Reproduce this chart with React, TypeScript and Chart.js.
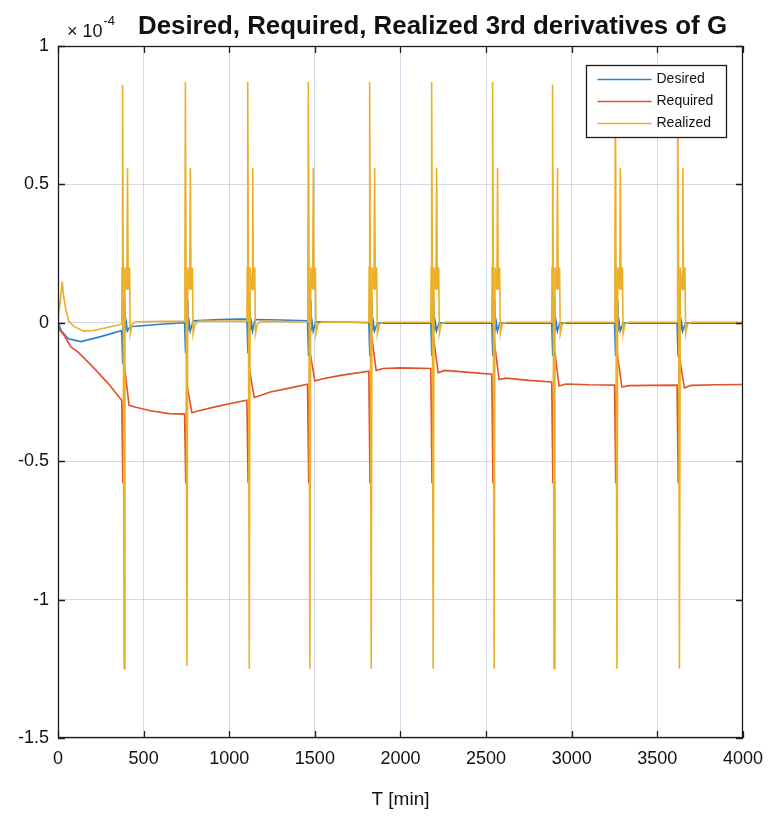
import React, { useEffect, useRef } from "react";
import { Chart, registerables } from "chart.js";

Chart.register(...registerables);

// ---------- data (values in units of 1e-4) ----------
const seriesNames = ["Desired", "Required", "Realized"];
const seriesColors = ["#2a7fd0", "#e2502a", "#ebb028"];

const xTicks = [0, 500, 1000, 1500, 2000, 2500, 3000, 3500, 4000];
const yTickValues = [-1.5, -1, -0.5, 0, 0.5, 1];
const yTickLabels = ["-1.5", "-1", "-0.5", "0", "0.5", "1"];

// times [min] of the periodic spikes
const eventTimes = [375, 742, 1106, 1460, 1818, 2180, 2536, 2886, 3253, 3618];

// Realized spike values
const realizedPeak1 = [0.86, 0.87, 0.87, 0.87, 0.87, 0.87, 0.87, 0.86, 0.86, 0.86];
const realizedTrough = [-1.25, -1.24, -1.25, -1.25, -1.25, -1.25, -1.25, -1.25, -1.25, -1.25];
const realizedPeak2 = [0.56, 0.56, 0.56, 0.56, 0.56, 0.56, 0.56, 0.56, 0.56, 0.56];
const realizedShoulder = [0.2, 0.15, 0.2, 0.12, 0.2, -0.04, -0.005];

// Desired spike values
const desiredLow = [-0.15, -0.11, -0.11, -0.12, -0.12, -0.12, -0.12, -0.12, -0.12, -0.12];
const desiredHigh = [0.1, 0.1, 0.1, 0.1, 0.1, 0.1, 0.1, 0.1, 0.1, 0.1];
const desiredRipple = [0.08, -0.03, 0.0, -0.03];

// Required spike values
const requiredLow = [-0.58, -0.58, -0.58, -0.58, -0.58, -0.58, -0.58, -0.58, -0.58, -0.58];
const requiredHigh = [-0.14, -0.22, -0.16, -0.1, -0.03, -0.04, -0.06, -0.08, -0.1, -0.12];
const requiredDip = [-0.298, -0.325, -0.27, -0.21, -0.172, -0.18, -0.205, -0.228, -0.232, -0.235];

// slow baselines between spikes: [t, value]
const desiredBase = [
  [0, 0], [20, -0.03], [60, -0.058], [134, -0.068], [250, -0.05], [372, -0.028],
  [420, -0.014], [600, -0.005], [739, 0],
  [790, 0.007], [950, 0.012], [1103, 0.014],
  [1150, 0.012], [1300, 0.01], [1457, 0.007],
  [1505, 0.004], [1700, 0.002], [1815, 0],
  [1865, -0.001], [2177, -0.001], [2225, -0.001], [2533, -0.001],
  [2580, -0.001], [2883, -0.001], [2930, -0.001], [3250, -0.001],
  [3300, -0.001], [3615, -0.001], [3665, -0.001], [4000, -0.001],
];
const requiredBase = [
  [0, -0.01], [12, -0.027], [35, -0.045], [75, -0.087], [116, -0.105], [192, -0.152],
  [290, -0.217], [372, -0.28],
  [455, -0.305], [540, -0.318], [650, -0.328], [739, -0.33],
  [822, -0.318], [930, -0.302], [1020, -0.29], [1103, -0.28],
  [1186, -0.262], [1240, -0.25], [1350, -0.236], [1457, -0.222],
  [1540, -0.203], [1650, -0.19], [1815, -0.175],
  [1898, -0.165], [2000, -0.163], [2177, -0.165],
  [2260, -0.172], [2400, -0.179], [2533, -0.186],
  [2616, -0.2], [2750, -0.208], [2883, -0.214],
  [2966, -0.221], [3100, -0.224], [3250, -0.225],
  [3333, -0.227], [3450, -0.226], [3615, -0.225],
  [3698, -0.226], [3850, -0.224], [4000, -0.223],
];
const realizedBase = [
  [0, 0.02], [10, 0.06], [25, 0.15], [32, 0.1], [46, 0.047], [64, 0.004], [93, -0.013],
  [150, -0.03], [210, -0.028], [300, -0.015], [372, -0.005],
  [455, 0.004], [600, 0.005], [739, 0.005],
  [822, 0.006], [950, 0.006], [1103, 0.006],
  [1186, 0.005], [1457, 0.004],
  [1540, 0.003], [1815, 0.002],
  [1898, 0.002], [2177, 0.002], [2260, 0.002], [2533, 0.002],
  [2616, 0.002], [2883, 0.002], [2966, 0.002], [3250, 0.002],
  [3333, 0.002], [3615, 0.002], [3698, 0.002], [4000, 0.002],
];

// ---------- assembling points ----------
type Pt = { x: number; y: number };

function realizedEvent(e: number, i: number): number[][] {
  const s = realizedShoulder;
  return [
    [e - 1, s[0]], [e + 2, realizedPeak1[i]], [e + 6, s[1]], [e + 11, realizedTrough[i]],
    [e + 16, s[2]], [e + 27, s[3]], [e + 31, realizedPeak2[i]], [e + 35, s[3]],
    [e + 43, s[4]], [e + 47, s[5]], [e + 58, s[6]],
  ];
}
function desiredEvent(e: number, i: number): number[][] {
  const r = desiredRipple;
  return [
    [e + 3, desiredLow[i]], [e + 7, desiredHigh[i]], [e + 14, r[0]], [e + 17, r[1]],
    [e + 24, r[2]], [e + 30, r[3]],
  ];
}
function requiredEvent(e: number, i: number): number[][] {
  return [
    [e + 4, requiredLow[i]], [e + 10, requiredHigh[i]], [e + 40, requiredDip[i]],
  ];
}

function build(base: number[][], ev: (e: number, i: number) => number[][]): Pt[] {
  const all: number[][] = [...base];
  eventTimes.forEach((e, i) => all.push(...ev(e, i)));
  all.sort((a, b) => a[0] - b[0]);
  return all.map(([x, y]) => ({ x, y }));
}

// ---------- plugins ----------
const FONT = "'Liberation Sans', Arial, Helvetica, sans-serif";

const framePlugin = {
  id: "matlabFrame",
  afterDatasetsDraw(chart: any) {
    const { ctx, chartArea: a, scales } = chart;
    ctx.save();
    // box
    ctx.strokeStyle = "#1c1c1c";
    ctx.lineWidth = 1.3;
    ctx.strokeRect(a.left + 0.5, a.top + 0.5, a.right - a.left - 1, a.bottom - a.top - 1);
    // inward ticks
    const len = 7;
    ctx.beginPath();
    for (const v of xTicks) {
      const px = Math.round(scales.x.getPixelForValue(v)) + 0.5;
      ctx.moveTo(px, a.bottom); ctx.lineTo(px, a.bottom - len);
      ctx.moveTo(px, a.top); ctx.lineTo(px, a.top + len);
    }
    for (const v of yTickValues) {
      const py = Math.round(scales.y.getPixelForValue(v)) + 0.5;
      ctx.moveTo(a.left, py); ctx.lineTo(a.left + len, py);
      ctx.moveTo(a.right, py); ctx.lineTo(a.right - len, py);
    }
    ctx.stroke();

    // legend box (inside, north-east)
    const bw = 140, bh = 72;
    const bx = Math.round(a.right - 17 - bw) + 0.5;
    const by = Math.round(a.top + 19) + 0.5;
    ctx.fillStyle = "#ffffff";
    ctx.fillRect(bx, by, bw, bh);
    ctx.strokeStyle = "#1c1c1c";
    ctx.lineWidth = 1.3;
    ctx.strokeRect(bx, by, bw, bh);
    ctx.font = `14px ${FONT}`;
    ctx.textBaseline = "middle";
    ctx.textAlign = "left";
    seriesNames.forEach((name, i) => {
      const y = by + 14 + i * 22;
      ctx.strokeStyle = seriesColors[i];
      ctx.lineWidth = 1.6;
      ctx.beginPath();
      ctx.moveTo(bx + 11, y); ctx.lineTo(bx + 65, y);
      ctx.stroke();
      ctx.fillStyle = "#111";
      ctx.fillText(name, bx + 70, y);
    });
    ctx.restore();
  },
  afterDraw(chart: any) {
    const { ctx, chartArea: a } = chart;
    ctx.save();
    ctx.fillStyle = "#111";
    ctx.textBaseline = "alphabetic";
    ctx.textAlign = "left";
    // exponent label
    ctx.font = `18px ${FONT}`;
    ctx.fillText("\u00d7 10", a.left + 9, 37);
    const w = ctx.measureText("\u00d7 10").width;
    ctx.font = `13px ${FONT}`;
    ctx.fillText("-4", a.left + 9 + w + 1, 25);
    // title
    const title = "Desired, Required, Realized 3rd derivatives of G";
    ctx.font = `bold 25px ${FONT}`;
    const tw = ctx.measureText(title).width;
    const target = 589;
    ctx.translate(138, 34);
    ctx.scale(target / tw, 1);
    ctx.fillText(title, 0, 0);
    ctx.restore();
  },
};

export default function App() {
  const ref = useRef<HTMLCanvasElement | null>(null);

  useEffect(() => {
    document.body.style.margin = "0";
    const canvas = ref.current;
    if (!canvas) return;
    const datasets = [
      { label: seriesNames[0], data: build(desiredBase, desiredEvent), borderColor: seriesColors[0], order: 2 },
      { label: seriesNames[1], data: build(requiredBase, requiredEvent), borderColor: seriesColors[1], order: 1 },
      { label: seriesNames[2], data: build(realizedBase, realizedEvent), borderColor: seriesColors[2], order: 0 },
    ].map((d) => ({
      ...d,
      borderWidth: 1.6,
      pointRadius: 0,
      tension: 0,
      fill: false,
    }));

    const chart = new Chart(canvas, {
      type: "line",
      data: { datasets },
      options: {
        animation: false,
        responsive: true,
        maintainAspectRatio: false,
        events: [],
        layout: { padding: { top: 46, right: 29, left: 0, bottom: 0 } },
        plugins: {
          legend: { display: false },
          tooltip: { enabled: false },
          title: { display: false },
        },
        scales: {
          x: {
            type: "linear",
            min: 0,
            max: 4000,
            afterBuildTicks: (s: any) => { s.ticks = xTicks.map((v) => ({ value: v })); },
            ticks: {
              color: "#111",
              font: { family: FONT, size: 18 },
              padding: 10,
              maxRotation: 0,
              autoSkip: false,
              callback: (v: any) => String(v),
            },
            grid: { color: "rgba(175,188,212,0.55)", lineWidth: 1, drawTicks: false },
            border: { display: false },
            title: {
              display: true,
              text: "T [min]",
              color: "#111",
              font: { family: FONT, size: 19 },
              padding: { top: 0, bottom: 9 },
            },
            afterFit: (s: any) => { s.height = 82; },
          },
          y: {
            type: "linear",
            min: -1.5,
            max: 1,
            afterBuildTicks: (s: any) => { s.ticks = yTickValues.map((v) => ({ value: v })); },
            ticks: {
              color: "#111",
              font: { family: FONT, size: 18 },
              padding: 9,
              autoSkip: false,
              callback: (v: any) => {
                const k = yTickValues.indexOf(Number(v));
                return k >= 0 ? yTickLabels[k] : "";
              },
            },
            grid: { color: "rgba(175,188,212,0.55)", lineWidth: 1, drawTicks: false },
            border: { display: false },
            afterFit: (s: any) => { s.width = 58; },
          },
        },
      },
      plugins: [framePlugin],
    });
    return () => chart.destroy();
  }, []);

  return (
    <div style={{ position: "relative", width: 773, height: 820 }}>
      <canvas ref={ref} />
    </div>
  );
}
